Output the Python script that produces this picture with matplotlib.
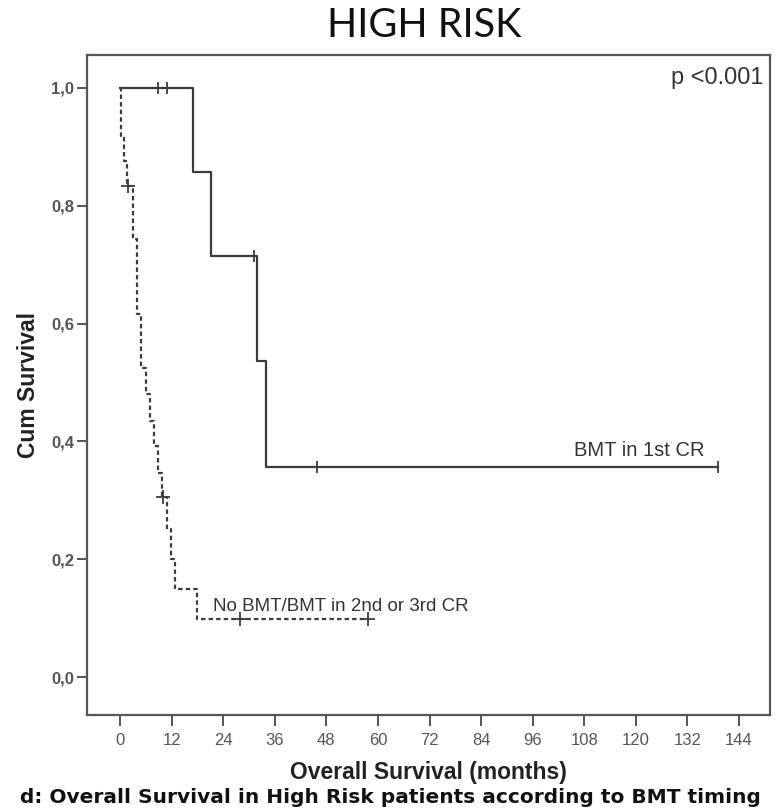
import numpy as np
import matplotlib
matplotlib.use("Agg")
import matplotlib.pyplot as plt

# Kaplan-Meier: BMT in 1st CR (solid)
bmt1_times = [0, 17.0, 21.1, 31.8, 34.0, 139.0]
bmt1_surv = [1.0, 0.857, 0.714, 0.536, 0.357, 0.357]
bmt1_cens = [8.9, 10.9, 31.2, 45.8, 139.0]

# No BMT / BMT in 2nd or 3rd CR (dashed)
nobmt_times = [0, 0.3, 0.9, 1.7, 3.0, 4.0, 5.0, 6.0, 6.9, 7.9, 8.9, 9.8,
               10.9, 11.9, 12.8, 17.9, 57.7]
nobmt_surv = [1.0, 0.918, 0.876, 0.833, 0.743, 0.616, 0.525, 0.480, 0.435,
              0.392, 0.347, 0.305, 0.251, 0.200, 0.150, 0.098, 0.098]
nobmt_cens = [1.9, 10.1, 27.9, 57.7]

xticks = np.arange(0, 145, 12)
yticks = [0.0, 0.2, 0.4, 0.6, 0.8, 1.0]
ytick_labels = ["0,0", "0,2", "0,4", "0,6", "0,8", "1,0"]


def level_at(t, times, surv):
    i = np.searchsorted(times, t, side="right") - 1
    return surv[i]


line_col = "#3c3c3c"
axis_col = "#555555"
narrow = ["Liberation Sans Narrow", "Liberation Sans", "DejaVu Sans"]
sans = ["Liberation Sans", "DejaVu Sans"]

fig = plt.figure(figsize=(7.82, 8.08), dpi=100)
ax = fig.add_axes([0.1109, 0.1151, 0.8738, 0.8168])

ax.step(bmt1_times, bmt1_surv, where="post", color=line_col, lw=1.6)
ax.step(nobmt_times, nobmt_surv, where="post", color=line_col, lw=1.6,
        linestyle=(0, (2, 1.4)))

# censored observations
ax.plot(bmt1_cens, [level_at(t, bmt1_times, bmt1_surv) for t in bmt1_cens],
        linestyle="none", marker="|", markersize=9, mew=1.3, color=line_col)
ax.plot(nobmt_cens, [level_at(t, nobmt_times, nobmt_surv) for t in nobmt_cens],
        linestyle="none", marker="+", markersize=10, mew=1.3, color=line_col)

ax.set_xlim(-7.74, 151.2)
ax.set_ylim(-0.064, 1.0554)

ax.set_xticks(xticks)
ax.set_xticklabels([str(v) for v in xticks], family=narrow, fontsize=12,
                   color="#555555")
ax.set_yticks(yticks)
ax.set_yticklabels(ytick_labels, family=narrow, fontsize=12,
                   fontweight="bold", color="#555555")
ax.tick_params(axis="x", direction="out", length=8, width=1.4,
               color=axis_col, pad=5)
ax.tick_params(axis="y", direction="out", length=7, width=1.4,
               color=axis_col, pad=2)
for s in ax.spines.values():
    s.set_color(axis_col)
    s.set_linewidth(1.6)

ax.set_xlabel("Overall Survival (months)", family=sans, fontsize=16.5,
              fontweight="bold", color="#222222", labelpad=9)
ax.set_ylabel("Cum Survival", family=sans, fontsize=16.5,
              fontweight="bold", color="#222222", labelpad=8)

ax.text(0.991, 0.965, "p <0.001", transform=ax.transAxes, ha="right",
        va="center", family=sans, fontsize=17, color="#333333")
ax.text(105.6, 0.385, "BMT in 1st CR", ha="left", va="center",
        family=sans, fontsize=14.5, color="#333333")
ax.text(21.6, 0.12, "No BMT/BMT in 2nd or 3rd CR", ha="left", va="center",
        family=sans, fontsize=13.5, color="#333333")

fig.text(0.542, 0.969, "HIGH RISK", ha="center", va="center",
         family=["Lato", "DejaVu Sans"], fontsize=28.5, color="#111111")
fig.text(0.499, 0.0136, "d: Overall Survival in High Risk patients according to BMT timing",
         ha="center", va="center", family=["DejaVu Sans"],
         fontsize=14.5, fontweight="bold", color="#111111")

fig.savefig("out.png", dpi=100)
